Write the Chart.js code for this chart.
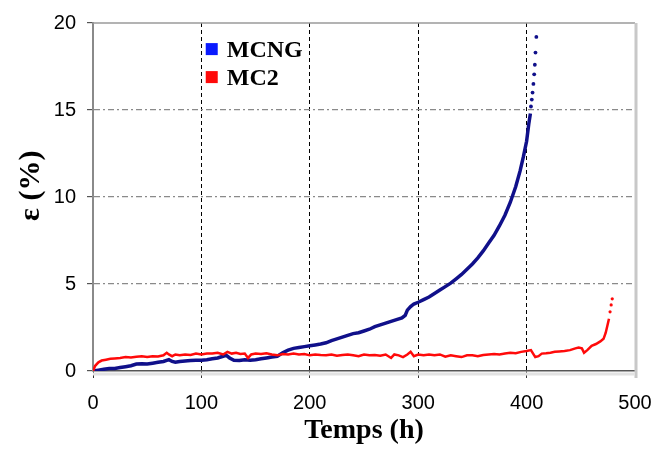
<!DOCTYPE html>
<html>
<head>
<meta charset="utf-8">
<script src="https://cdn.jsdelivr.net/npm/chart.js@4/dist/chart.umd.min.js"></script>
<style>
  body { margin: 0; background: #fff; }
  #wrap { width: 653px; height: 451px; }
</style>
</head>
<body>
<div id="wrap"><canvas id="graf" width="653" height="451"></canvas></div>
<script>
// ====== DONNEES ======
const mcngTemps = [0, 5, 10, 15, 20, 25, 30, 35, 40, 45, 50, 55, 60, 65, 70, 73, 76, 80, 85, 90, 95, 100,
  105, 110, 115, 120, 123, 126, 130, 135, 140, 145, 150, 155, 160, 165, 170, 175, 180, 185, 190, 195, 200,
  205, 210, 215, 220, 225, 230, 235, 240, 245, 250, 255, 260, 265, 270, 275, 280, 285, 288, 290, 293, 296,
  300, 305, 310, 315, 320, 325, 330, 335, 340, 345, 350, 355, 360, 365, 370, 375, 380, 385, 390, 394, 397,
  400, 402, 403.5];
const mcngDef = [0, 0.05, 0.1, 0.14, 0.15, 0.2, 0.25, 0.3, 0.4, 0.42, 0.4, 0.45, 0.5, 0.55, 0.65, 0.55, 0.5,
  0.55, 0.58, 0.6, 0.62, 0.62, 0.65, 0.7, 0.75, 0.85, 0.9, 0.75, 0.62, 0.6, 0.65, 0.62, 0.65, 0.7, 0.75, 0.8,
  0.85, 1.05, 1.2, 1.3, 1.35, 1.4, 1.45, 1.5, 1.55, 1.62, 1.75, 1.85, 1.95, 2.05, 2.15, 2.2, 2.3, 2.4, 2.55,
  2.65, 2.75, 2.85, 2.95, 3.05, 3.2, 3.5, 3.7, 3.85, 3.95, 4.1, 4.25, 4.45, 4.65, 4.85, 5.05, 5.3, 5.55, 5.85,
  6.15, 6.5, 6.9, 7.35, 7.8, 8.35, 8.95, 9.7, 10.6, 11.5, 12.3, 13.2, 14.2, 14.8];
// fin de l'essai MCNG : points isolés
const mcngFinTemps = [404, 404.8, 405.5, 406.3, 407, 407.6, 408.2, 409];
const mcngFinDef = [15.2, 15.6, 16.0, 16.5, 17.05, 17.6, 18.3, 19.2];

const mc2Temps = [0, 2, 5, 8, 12, 16, 20, 25, 30, 35, 40, 45, 50, 55, 60, 65, 68, 70, 73, 76, 80, 85, 90, 95,
  100, 105, 110, 115, 120, 124, 128, 132, 136, 140, 143, 146, 150, 155, 160, 165, 170, 175, 180, 185, 190,
  195, 200, 205, 210, 215, 220, 225, 230, 235, 240, 245, 250, 255, 260, 265, 270, 275, 278, 282, 286, 290,
  293, 296, 300, 305, 310, 315, 320, 325, 330, 335, 340, 345, 350, 355, 360, 365, 370, 375, 380, 385, 390,
  395, 400, 404, 406, 408, 411, 414, 418, 422, 426, 430, 435, 440, 445, 448, 451, 453, 456, 460, 464, 468,
  471, 473, 474.5, 476];
const mc2Def = [0, 0.3, 0.5, 0.6, 0.65, 0.7, 0.72, 0.75, 0.8, 0.78, 0.82, 0.85, 0.8, 0.85, 0.83, 0.9, 1.05,
  0.95, 0.85, 0.95, 0.9, 0.95, 0.92, 1.0, 0.95, 1.0, 1.0, 1.05, 0.95, 1.1, 1.0, 1.05, 0.98, 1.0, 0.75, 0.95,
  1.0, 0.98, 1.02, 0.95, 0.9, 0.98, 0.95, 1.0, 0.95, 0.98, 0.9, 0.95, 0.92, 0.9, 0.95, 0.88, 0.92, 0.95, 0.9,
  0.85, 0.95, 0.9, 0.92, 0.88, 0.95, 0.75, 0.95, 0.9, 0.8, 0.95, 1.1, 0.85, 0.95, 0.9, 0.95, 0.9, 0.95, 0.82,
  0.9, 0.85, 0.8, 0.9, 0.9, 0.85, 0.92, 0.95, 0.98, 0.95, 1.0, 1.05, 1.02, 1.1, 1.15, 1.2, 1.0, 0.8, 0.85,
  1.0, 1.02, 1.05, 1.1, 1.12, 1.15, 1.2, 1.3, 1.35, 1.3, 1.05, 1.2, 1.45, 1.55, 1.7, 1.85, 2.2, 2.6, 3.0];
const mc2FinTemps = [477, 478, 479];
const mc2FinDef = [3.4, 3.8, 4.15];

const xTicks = [0, 100, 200, 300, 400, 500];
const yTicks = [0, 5, 10, 15, 20];

const BLEU = "#10108a";
const ROUGE = "#ff0a0a";

const pts = (xs, ys) => xs.map((x, i) => ({ x: x, y: ys[i] }));

// ====== CADRE (haut + droite) ======
const cadre = {
  id: "cadre",
  beforeDatasetsDraw(chart) {
    const { ctx, chartArea: a } = chart;
    ctx.save();
    ctx.strokeStyle = "#9a9a9a";
    ctx.lineWidth = 1.5;
    ctx.beginPath();
    ctx.moveTo(a.left, a.top);
    ctx.lineTo(a.right, a.top);
    ctx.stroke();
    ctx.strokeStyle = "#c8c8c8";
    ctx.lineWidth = 3;
    ctx.beginPath();
    ctx.moveTo(a.right + 1, a.top);
    ctx.lineTo(a.right + 1, a.bottom + 7);
    ctx.stroke();
    ctx.strokeStyle = "#e2e2e2";
    ctx.lineWidth = 3;
    ctx.beginPath();
    ctx.moveTo(a.left, a.bottom + 3);
    ctx.lineTo(a.right, a.bottom + 3);
    ctx.stroke();
    ctx.restore();
  }
};

// ====== LEGENDE DANS LE GRAPHIQUE ======
const legendeInterne = {
  id: "legendeInterne",
  afterDatasetsDraw(chart) {
    const { ctx, scales } = chart;
    const x0 = scales.x.getPixelForValue(104);
    const y0 = scales.y.getPixelForValue(18.5);
    const items = [{ t: "MCNG", c: "#0a1aff" }, { t: "MC2", c: ROUGE }];
    ctx.save();
    ctx.font = "bold 24px 'Liberation Serif', 'Times New Roman', serif";
    ctx.textBaseline = "middle";
    items.forEach((it, i) => {
      const y = y0 + i * 28;
      ctx.fillStyle = it.c;
      ctx.fillRect(x0, y - 6, 12, 12);
      ctx.fillStyle = "#000";
      ctx.fillText(it.t, x0 + 21, y + 2);
    });
    ctx.restore();
  }
};

new Chart(document.getElementById("graf"), {
  type: "scatter",
  data: {
    datasets: [
      { label: "MC2", data: pts(mc2Temps, mc2Def), showLine: true, borderColor: ROUGE,
        borderWidth: 2.5, pointRadius: 0, tension: 0 },
      { label: "MC2 fin", data: pts(mc2FinTemps, mc2FinDef), showLine: false, pointRadius: 1.6,
        backgroundColor: ROUGE, borderWidth: 0 },
      { label: "MCNG", data: pts(mcngTemps, mcngDef), showLine: true, borderColor: BLEU,
        borderWidth: 3.5, pointRadius: 0, tension: 0 },
      { label: "MCNG fin", data: pts(mcngFinTemps, mcngFinDef), showLine: false, pointRadius: 1.9,
        backgroundColor: BLEU, borderWidth: 0 }
    ]
  },
  options: {
    responsive: false,
    animation: false,
    layout: { padding: { left: 0, top: 23, right: 18, bottom: 0 } },
    plugins: { legend: { display: false }, tooltip: { enabled: false } },
    scales: {
      x: {
        type: "linear",
        min: 0,
        max: 500,
        afterBuildTicks: s => { s.ticks = xTicks.map(v => ({ value: v })); },
        afterFit: s => { s.height = 80; s.paddingLeft = 0; s.paddingRight = 0; },
        ticks: { color: "#000", padding: 13, font: { family: "'Liberation Sans', Arial, sans-serif", size: 20 } },
        grid: {
          color: c => (c.tick && (c.tick.value === 0 || c.tick.value === 500)) ? "rgba(0,0,0,0)" : "#000",
          lineWidth: 1,
          tickColor: "#333",
          tickLength: 7
        },
        border: { color: "#555", width: 1.5, dash: [4, 3] },
        title: {
          display: true,
          text: "Temps (h)",
          color: "#000",
          padding: { top: 0, bottom: 3 },
          font: { family: "'Liberation Serif', 'Times New Roman', serif", size: 28, weight: "bold" }
        }
      },
      y: {
        min: 0,
        max: 20,
        afterBuildTicks: s => { s.ticks = yTicks.map(v => ({ value: v })); },
        afterFit: s => { s.width = 93; s.paddingTop = 0; s.paddingBottom = 0; },
        ticks: { color: "#000", padding: 11, font: { family: "'Liberation Sans', Arial, sans-serif", size: 20 } },
        grid: {
          color: c => (c.tick && (c.tick.value === 0 || c.tick.value === 20)) ? "rgba(0,0,0,0)" : "#8a8a8a",
          lineWidth: 1.2,
          tickColor: "#555",
          tickLength: 6
        },
        border: { color: "#8a8a8a", width: 2, dash: [6, 3, 2, 3] },
        title: {
          display: true,
          text: "   ε (%)",
          color: "#000",
          padding: { top: 13, bottom: 0 },
          font: { family: "'Liberation Serif', 'Times New Roman', serif", size: 30, weight: "bold" }
        }
      }
    }
  },
  plugins: [cadre, legendeInterne]
});
</script>
</body>
</html>
